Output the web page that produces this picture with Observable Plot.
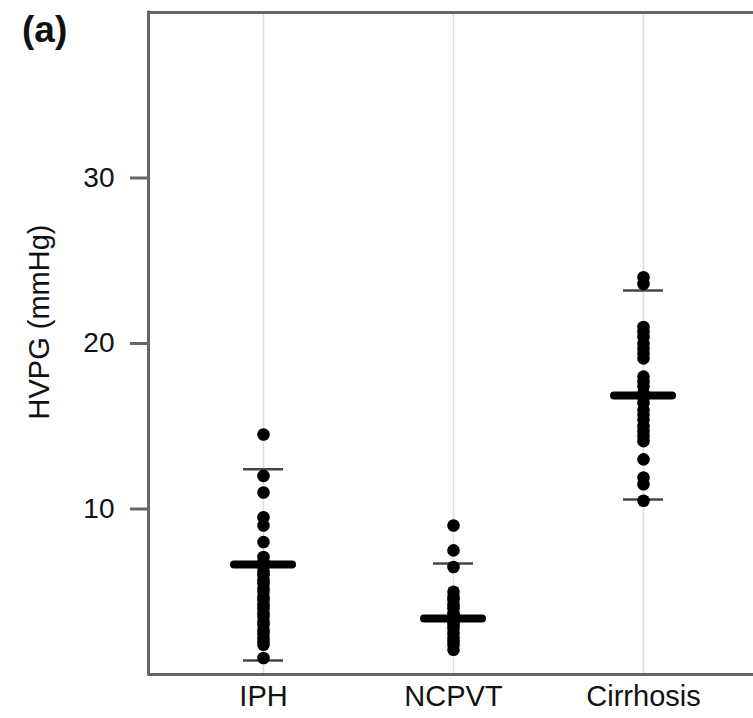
<!DOCTYPE html>
<html>
<head>
<meta charset="utf-8">
<script src="https://cdn.jsdelivr.net/npm/d3@7"></script>
<script src="https://cdn.jsdelivr.net/npm/@observablehq/plot@0.6"></script>
<style>
  html, body { margin: 0; padding: 0; background: white; overflow: hidden; }
  #wrap { position: relative; width: 753px; height: 718px; overflow: hidden; }
  #panel { position: absolute; left: 22px; top: 11px; font: bold 37px/1 "Liberation Sans", Arial, sans-serif; color: #111; }
  #ylab { position: absolute; left: 39px; top: 322px; transform: translate(-50%, -50%) rotate(-90deg);
          white-space: nowrap; font: 29px/1 "Liberation Sans", Arial, sans-serif; color: #111; }
</style>
</head>
<body>
<div id="wrap">
  <div id="chart"></div>
  <div id="panel">(a)</div>
  <div id="ylab">HVPG (mmHg)</div>
</div>
<script>
const categories = ["IPH", "NCPVT", "Cirrhosis"];
const iphValues = [14.5, 12, 11, 9.5, 9, 8, 7.1, 6.8, 6.5, 6.2, 6, 5.7, 5.5, 5.2, 5, 4.7, 4.5, 4.2, 4, 3.7, 3.5, 3.2, 3, 2.7, 2.5, 2.2, 2, 1.8, 1];
const ncpvtValues = [9, 7.5, 6.5, 5, 4.7, 4.5, 4.2, 4, 3.7, 3.5, 3.2, 3, 2.8, 2.5, 2.2, 2, 1.8, 1.5];
const cirrhosisValues = [24, 23.6, 21, 20.7, 20.4, 20, 19.7, 19.4, 19.1, 18, 17.7, 17.4, 17, 16.7, 16.4, 16, 15.7, 15.4, 15, 14.7, 14.4, 14.1, 13, 11.9, 11.5, 10.5];
const meanValues = [6.65, 3.38, 16.86];
const upperValues = [12.4, 6.7, 23.2];
const lowerValues = [0.85, null, 10.57];
const yTicks = [10, 20, 30];
const yDomain = [0, 40];

const points = [
  ...iphValues.map(v => ({group: "IPH", value: v})),
  ...ncpvtValues.map(v => ({group: "NCPVT", value: v})),
  ...cirrhosisValues.map(v => ({group: "Cirrhosis", value: v}))
];
const summary = categories.map((c, i) => ({group: c, mean: meanValues[i], upper: upperValues[i], lower: lowerValues[i]}));
const sdBars = [
  ...summary.map(d => ({group: d.group, value: d.upper})),
  ...summary.filter(d => d.lower != null).map(d => ({group: d.group, value: d.lower}))
];

const line = {stroke: "#666", strokeWidth: 3};
const chart = Plot.plot({
  width: 753,
  height: 718,
  marginLeft: 148,
  marginRight: 0,
  marginTop: 12,
  marginBottom: 44,
  style: {fontFamily: "'Liberation Sans', Arial, sans-serif", color: "#111", background: "white"},
  x: {type: "band", domain: categories, range: [148, 758], paddingInner: 0, paddingOuter: 0.105, label: null},
  y: {domain: yDomain, label: null},
  marks: [
    Plot.ruleX(categories, {x: d => d, stroke: "#dcdcdc", strokeWidth: 1.5}),
    Plot.axisX({tickSize: 0, tickPadding: 11, fontSize: 29, label: null}),
    Plot.axisY(yTicks, {tickSize: 18, tickPadding: 16, fontSize: 28, stroke: "#666", strokeWidth: 3, label: null}),
    Plot.tickY(sdBars, {x: "group", y: "value", stroke: "#444", strokeWidth: 2.5, insetLeft: 75, insetRight: 75}),
    Plot.dot(points, {x: "group", y: "value", r: 6.3, fill: "#000", stroke: "none"}),
    Plot.tickY(summary, {x: "group", y: "mean", stroke: "#000", strokeWidth: 8, strokeLinecap: "round", insetLeft: 66, insetRight: 66}),
    Plot.ruleY(yDomain, {y: d => d, ...line}),
    Plot.ruleX(categories.slice(0, 1), {x: d => d, ...line, dx: -115, y1: yDomain[0], y2: yDomain[1], strokeLinecap: "square"})
  ]
});
document.getElementById("chart").appendChild(chart);
</script>
</body>
</html>
